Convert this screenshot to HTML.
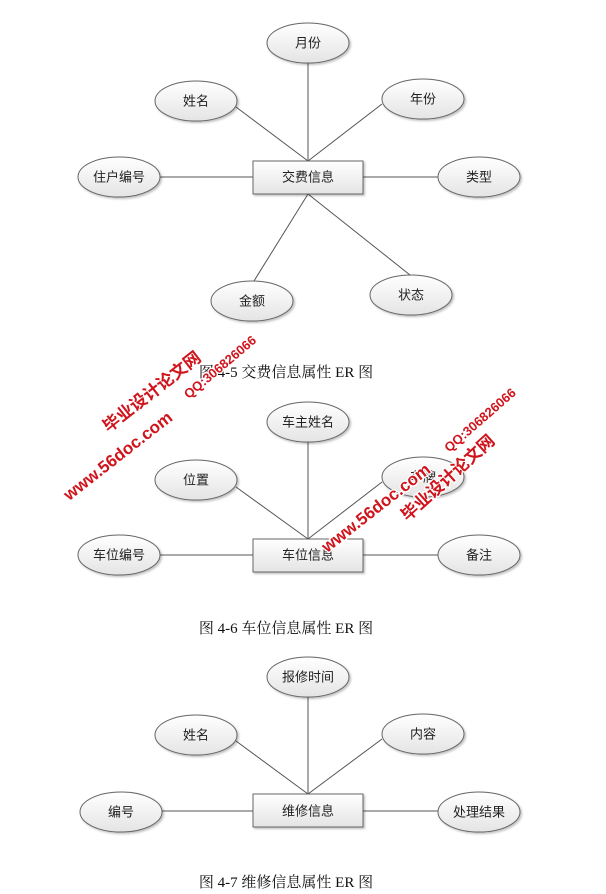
<!DOCTYPE html>
<html><head><meta charset="utf-8"><style>
html,body{margin:0;padding:0;background:#fff;}
svg{display:block;}
.l{stroke:#555;stroke-width:1;fill:none;}
.t{font-family:"Liberation Sans","Noto Sans CJK SC",sans-serif;font-size:13px;fill:#222;text-anchor:middle;dominant-baseline:central;}
.c{font-family:"Liberation Serif","Noto Serif CJK SC",serif;font-size:15px;fill:#111;text-anchor:middle;dominant-baseline:central;}
.w{font-family:"Liberation Sans","Noto Sans CJK SC",sans-serif;font-weight:bold;fill:#d0141c;text-anchor:middle;dominant-baseline:central;}
</style></head><body>
<svg width="606" height="894" viewBox="0 0 606 894" xmlns="http://www.w3.org/2000/svg">
<defs>
<linearGradient id="g" x1="0" y1="0" x2="0" y2="1"><stop offset="0" stop-color="#ffffff"/><stop offset="1" stop-color="#e4e4e4"/></linearGradient>
<filter id="s" x="-20%" y="-20%" width="150%" height="160%"><feDropShadow dx="1.5" dy="1.5" stdDeviation="1" flood-color="#000" flood-opacity="0.25"/></filter>
</defs>
<g>
<line class="l" x1="308" y1="63" x2="308" y2="161"/>
<line class="l" x1="236" y1="107" x2="308" y2="161"/>
<line class="l" x1="382" y1="104" x2="308" y2="161"/>
<line class="l" x1="160" y1="177" x2="253" y2="177"/>
<line class="l" x1="363" y1="177" x2="438" y2="177"/>
<line class="l" x1="308" y1="194" x2="254" y2="281"/>
<line class="l" x1="308" y1="194" x2="410" y2="275"/>
<g filter="url(#s)" fill="url(#g)" stroke="#666">
<ellipse cx="308" cy="43" rx="41" ry="20"/>
<ellipse cx="196" cy="101" rx="41" ry="20"/>
<ellipse cx="423" cy="99" rx="41" ry="20"/>
<ellipse cx="119" cy="177" rx="41" ry="20"/>
<ellipse cx="479" cy="177" rx="41" ry="20"/>
<ellipse cx="252" cy="301" rx="41" ry="20"/>
<ellipse cx="411" cy="295" rx="41" ry="20"/>
<rect x="253" y="161" width="110" height="33"/>
</g>
<text class="t" x="308" y="43">月份</text>
<text class="t" x="196" y="101">姓名</text>
<text class="t" x="423" y="99">年份</text>
<text class="t" x="119" y="177">住户编号</text>
<text class="t" x="479" y="177">类型</text>
<text class="t" x="252" y="301">金额</text>
<text class="t" x="411" y="295">状态</text>
<text class="t" x="308" y="177">交费信息</text>
<text class="c" x="286" y="373">图 4-5 交费信息属性 ER 图</text>
</g>
<g>
<line class="l" x1="308" y1="442" x2="308" y2="539"/>
<line class="l" x1="236" y1="487" x2="308" y2="539"/>
<line class="l" x1="382" y1="482" x2="308" y2="539"/>
<line class="l" x1="160" y1="555" x2="253" y2="555"/>
<line class="l" x1="363" y1="555" x2="438" y2="555"/>
<g filter="url(#s)" fill="url(#g)" stroke="#666">
<ellipse cx="308" cy="422" rx="41" ry="20"/>
<ellipse cx="196" cy="480" rx="41" ry="20"/>
<ellipse cx="423" cy="477" rx="41" ry="20"/>
<ellipse cx="119" cy="555" rx="41" ry="20"/>
<ellipse cx="479" cy="555" rx="41" ry="20"/>
<rect x="253" y="539" width="110" height="33"/>
</g>
<text class="t" x="308" y="422">车主姓名</text>
<text class="t" x="196" y="480">位置</text>
<text class="t" x="423" y="477">车牌</text>
<text class="t" x="119" y="555">车位编号</text>
<text class="t" x="479" y="555">备注</text>
<text class="t" x="308" y="555">车位信息</text>
<text class="c" x="286" y="629">图 4-6 车位信息属性 ER 图</text>
</g>
<g>
<line class="l" x1="308" y1="697" x2="308" y2="794"/>
<line class="l" x1="236" y1="741" x2="308" y2="794"/>
<line class="l" x1="382" y1="739" x2="308" y2="794"/>
<line class="l" x1="162" y1="811" x2="253" y2="811"/>
<line class="l" x1="363" y1="811" x2="438" y2="811"/>
<g filter="url(#s)" fill="url(#g)" stroke="#666">
<ellipse cx="308" cy="677" rx="41" ry="20"/>
<ellipse cx="196" cy="735" rx="41" ry="20"/>
<ellipse cx="423" cy="734" rx="41" ry="20"/>
<ellipse cx="121" cy="812" rx="41" ry="20"/>
<ellipse cx="479" cy="812" rx="41" ry="20"/>
<rect x="253" y="794" width="110" height="33"/>
</g>
<text class="t" x="308" y="677">报修时间</text>
<text class="t" x="196" y="735">姓名</text>
<text class="t" x="423" y="734">内容</text>
<text class="t" x="121" y="812">编号</text>
<text class="t" x="479" y="812">处理结果</text>
<text class="t" x="308" y="811">维修信息</text>
<text class="c" x="286" y="883">图 4-7 维修信息属性 ER 图</text>
</g>
<g stroke="#fff" stroke-width="2.5" paint-order="stroke">
<text class="w" font-size="17" transform="translate(152,392) rotate(-38)">毕业设计论文网</text>
<text class="w" font-size="17" transform="translate(118,456) rotate(-38)">www.56doc.com</text>
<text class="w" font-size="13" transform="translate(220,367) rotate(-40)">QQ:306826066</text>
<text class="w" font-size="17" transform="translate(376,508) rotate(-38)">www.56doc.com</text>
<text class="w" font-size="17" transform="translate(448,478) rotate(-42)">毕业设计论文网</text>
<text class="w" font-size="13" transform="translate(480,420) rotate(-41)">QQ:306826066</text>
</g>
</svg>
</body></html>
